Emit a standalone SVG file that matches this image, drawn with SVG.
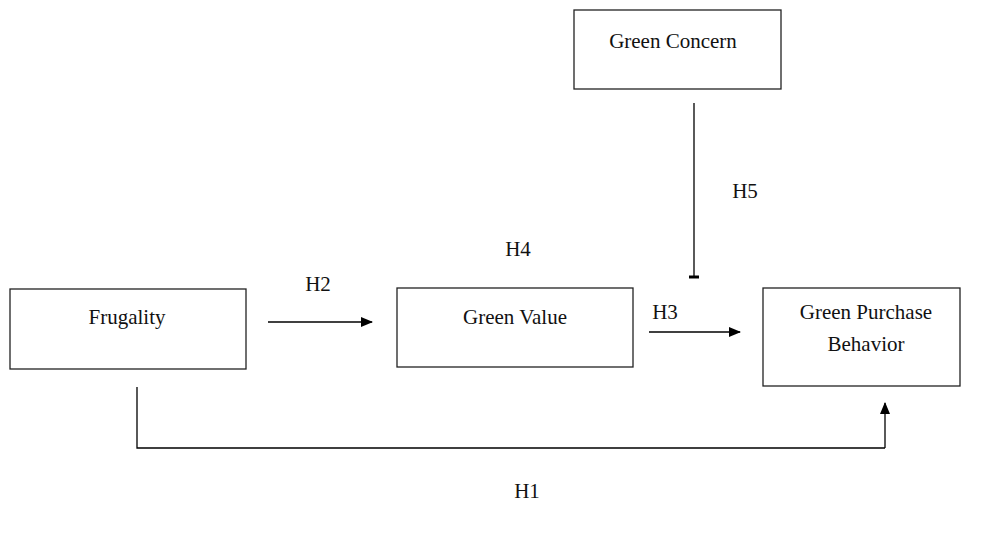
<svg xmlns="http://www.w3.org/2000/svg" width="989" height="534" viewBox="0 0 989 534">
<style>
.box{fill:#fff;stroke:#222;stroke-width:1.3}
.t{font-family:"Liberation Serif","Times New Roman",serif;font-size:21px;fill:#111;text-anchor:middle}
.c{stroke:#000;stroke-width:1.3;fill:none}
</style>
<defs>
<marker id="ah" markerWidth="12" markerHeight="10" refX="11" refY="5" orient="auto" markerUnits="userSpaceOnUse">
<path d="M0,0 L12,5 L0,10 Z" fill="#000"/>
</marker>
</defs>
<rect width="989" height="534" fill="#fff"/>
<g id="green-concern">
<rect class="box" x="574" y="10" width="207" height="79"/>
<text class="t" x="673" y="48">Green Concern</text>
</g>
<g id="frugality">
<rect class="box" x="10" y="289" width="236" height="80"/>
<text class="t" x="127" y="324">Frugality</text>
</g>
<g id="green-value">
<rect class="box" x="397" y="288" width="236" height="79"/>
<text class="t" x="515" y="324">Green Value</text>
</g>
<g id="green-purchase-behavior">
<rect class="box" x="763" y="288" width="197" height="98"/>
<text class="t" x="866" y="319">Green Purchase</text>
<text class="t" x="866" y="351">Behavior</text>
</g>
<g id="connectors">
<line class="c" x1="268" y1="322" x2="372" y2="322" marker-end="url(#ah)"/>
<line class="c" x1="649" y1="332" x2="740" y2="332" marker-end="url(#ah)"/>
<line class="c" x1="694" y1="103" x2="694" y2="277"/>
<line x1="689" y1="277" x2="699" y2="277" stroke="#000" stroke-width="3"/>
<polyline class="c" points="137,387 137,448 885,448"/>
<line class="c" x1="885" y1="448" x2="885" y2="403" marker-end="url(#ah)"/>
</g>
<g id="labels">
<text class="t" x="318" y="291">H2</text>
<text class="t" x="518" y="256">H4</text>
<text class="t" x="665" y="319">H3</text>
<text class="t" x="745" y="198">H5</text>
<text class="t" x="527" y="498">H1</text>
</g>
</svg>
